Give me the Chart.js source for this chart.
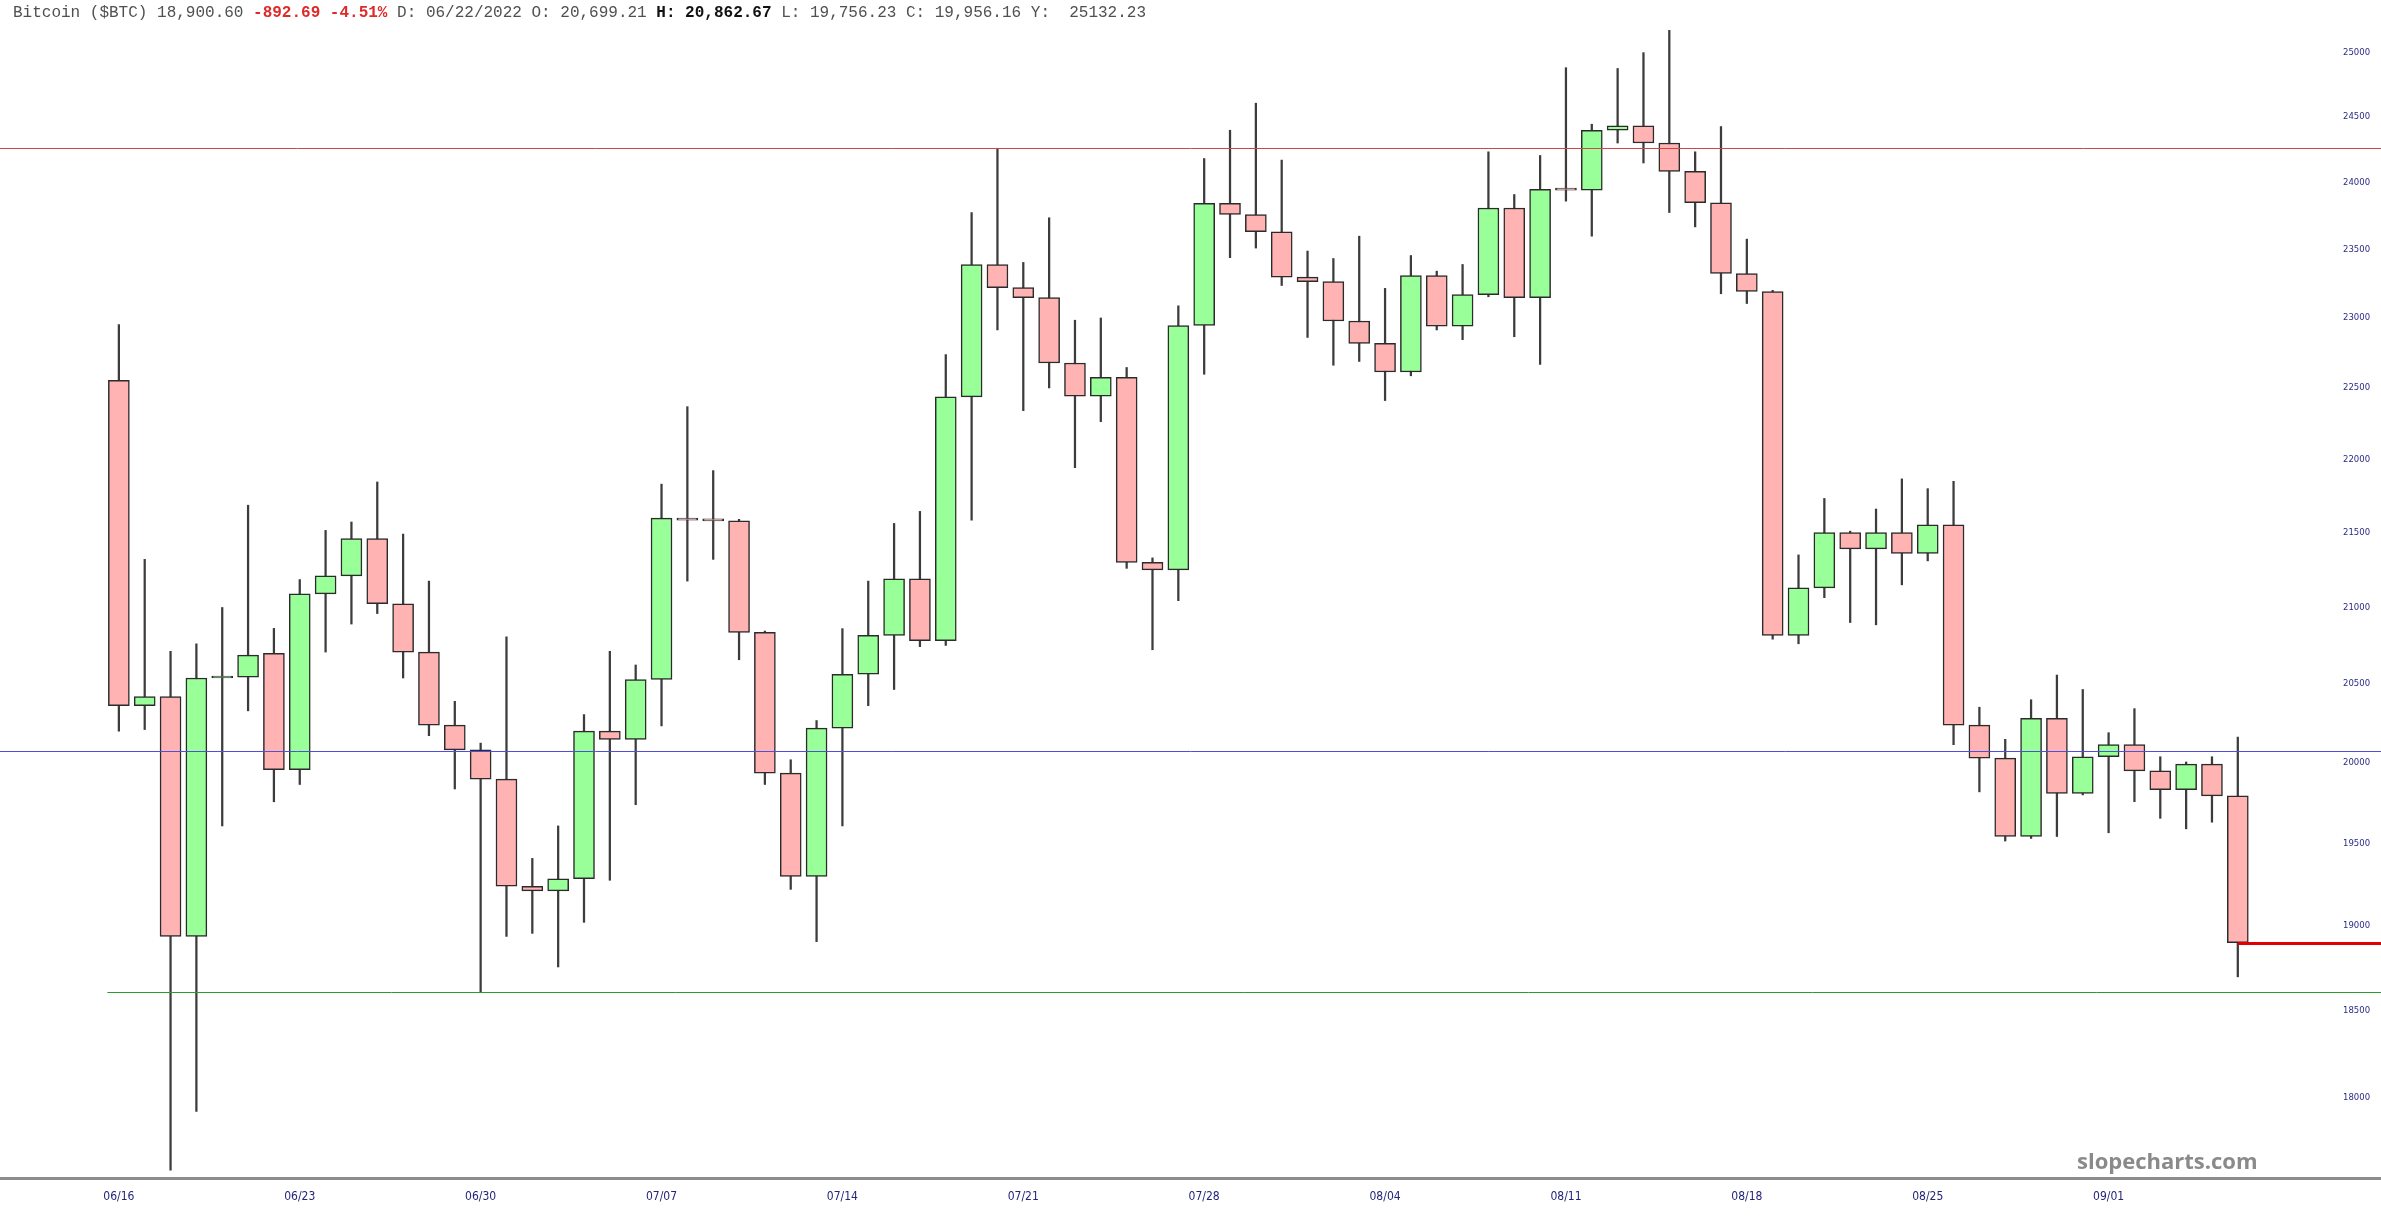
<!DOCTYPE html>
<html>
<head>
<meta charset="utf-8">
<title>Bitcoin ($BTC) daily</title>
<script src="https://cdn.jsdelivr.net/npm/chart.js@4.4.1/dist/chart.umd.min.js"></script>
<style>
  html, body { margin: 0; padding: 0; background: #fff; overflow: hidden; }
  #wrap { position: relative; width: 2381px; height: 1218px; }
  #quote { position: absolute; left: 13px; top: 5px; font: 16px/16px 'Liberation Mono', 'Courier New', monospace; color: #505050; white-space: pre; }
  #quote .dn { color: #e02a2a; font-weight: bold; }
  #quote .hi { color: #111; font-weight: bold; }
  #brand { position: absolute; left: 2077px; top: 1146px; font: bold 22px/28px 'Open Sans', sans-serif; color: #8a8a8a; }
</style>
</head>
<body>
<div id="wrap">
  <canvas id="chart" width="2381" height="1218"></canvas>
  <div id="quote"></div>
  <div id="brand">slopecharts.com</div>
</div>
<script>
// daily candles, 06/16 .. 09/06 (index = days since 06/16)
const tickDays = [0, 7, 14, 21, 28, 35, 42, 49, 56, 63, 70, 77];
const tickLabels = ['06/16', '06/23', '06/30', '07/07', '07/14', '07/21', '07/28', '08/04', '08/11', '08/18', '08/25', '09/01'];

const opens = [
  22554, 20362, 20420, 18938, 20540, 20545, 20699.21, 19956, 21090, 21210,
  21460, 21025, 20708, 20238, 20081, 19897, 19239, 19211, 19284, 20200,
  20148, 20530, 21598, 21585, 21580, 20837, 19935, 19298, 20219, 20564,
  20817, 21190, 20782, 22437, 23390, 23220, 23148, 22677, 22442, 22575,
  21300, 21250, 22946, 23843, 23760, 23632, 23297, 23264, 22978, 22817,
  22613, 23308, 22941, 23170, 23809, 23148, 23949, 23943, 24398, 24432,
  24300, 24085, 23848, 23324, 23192, 20817, 21130, 21500, 21390, 21500,
  21360, 21552, 20238, 20029, 19542, 20281, 19808, 20038, 20114, 19949,
  19832, 19991, 19793.29
];
const highs = [
  22952, 21320, 20713, 20762, 21000, 21686, 20862.67, 21185, 21515, 21572,
  21845, 21490, 21175, 20390, 20124, 20807, 19408, 19607, 20305, 20713,
  20624, 21830, 22368, 21923, 21590, 20845, 20019, 20267, 20861, 21175,
  21562, 21644, 22737, 23775, 24260, 23405, 23736, 22984, 23000, 22645,
  21330, 23088, 24182, 24398, 24606, 24170, 23489, 23434, 23599, 23215,
  23456, 23341, 23390, 24233, 23910, 24205, 24882, 24444, 24876, 25000,
  25176, 24233, 24426, 23577, 23200, 21350, 21732, 21510, 21660, 21866,
  21799, 21850, 20352, 20148, 20400, 20559, 20466, 20190, 20343, 20038,
  20005, 20038, 20162
];
const lows = [
  20200, 20210, 17597, 17924, 19607, 20329, 19756.23, 19864, 20708, 20891,
  20960, 20540, 20171, 19836, 18610, 18938, 18956, 18757, 19022, 19275,
  19738, 20233, 21175, 21320, 20658, 19864, 19220, 18907, 19607, 20362,
  20466, 20743, 20752, 21585, 22914, 22340, 22500, 21943, 22263, 21260,
  20723, 21045, 22597, 23440, 23511, 23236, 22860, 22661, 22688, 22411,
  22586, 22914, 22844, 23154, 22865, 22667, 23860, 23599, 24300, 24148,
  23775, 23668, 23176, 23105, 20792, 20762, 21065, 20901, 20886, 21150,
  21310, 20114, 19818, 19514, 19530, 19542, 19799, 19565, 19757, 19654,
  19589, 19630, 18699
];
const closes = [
  20362, 20420, 18938, 20540, 20545, 20688, 19956.16, 21090, 21210, 21460,
  21025, 20708, 20238, 20081, 19897, 19239, 19211, 19284, 20200, 20148,
  20530, 21598, 21585, 21580, 20837, 19935, 19298, 20219, 20564, 20817,
  21190, 20782, 22437, 23390, 23220, 23148, 22677, 22442, 22575, 21300,
  21250, 22946, 23843, 23760, 23632, 23297, 23264, 22978, 22817, 22613,
  23308, 22941, 23170, 23809, 23148, 23949, 23943, 24398, 24432, 24300,
  24085, 23848, 23324, 23192, 20817, 21130, 21500, 21390, 21500, 21360,
  21552, 20238, 20029, 19542, 20281, 19808, 20038, 20114, 19949, 19832,
  19991, 19793.29, 18900.60
];

// drawn levels
const resistance = 24260;
const pivot = 20074;
const support = 18609;

const yTicks = [18000, 18500, 19000, 19500, 20000, 20500, 21000, 21500, 22000, 22500, 23000, 23500, 24000, 24500, 25000];
const yMin = 17559, yMax = 25417;
const xMin = -4.6, xMax = 84.02;

const hoverIdx = 6, hoverDate = '06/22/2022';
const yearValue = 25132.23;

const up = '#99ff99', down = '#ffb3b3';
const bodyWidth = 21;

// quote line
const fmt = v => v.toLocaleString('en-US', { minimumFractionDigits: 2, maximumFractionDigits: 2 });
const last = closes[closes.length - 1];
const prev = closes[closes.length - 2];
const chg = last - prev;
const q = document.getElementById('quote');
function add(text, cls) {
  const s = document.createElement('span');
  if (cls) s.className = cls;
  s.textContent = text;
  q.appendChild(s);
}
add('Bitcoin ($BTC) ' + fmt(last) + ' ');
add(fmt(chg) + ' ' + (chg / prev * 100).toFixed(2) + '%', 'dn');
add(' D: ' + hoverDate + ' O: ' + fmt(opens[hoverIdx]) + ' ');
add('H: ' + fmt(highs[hoverIdx]), 'hi');
add(' L: ' + fmt(lows[hoverIdx]) + ' C: ' + fmt(closes[hoverIdx]) + ' Y:  ' + yearValue.toFixed(2));

const levelLines = {
  id: 'levelLines',
  afterDatasetsDraw(chart) {
    const { ctx, chartArea } = chart;
    const x = chart.scales.x, y = chart.scales.y;
    const w = chart.width;
    function hline(v, x0, color, lw) {
      const py = Math.round(y.getPixelForValue(v)) + (lw % 2 ? 0.5 : 0);
      ctx.beginPath();
      ctx.moveTo(x0, py);
      ctx.lineTo(w, py);
      ctx.strokeStyle = color;
      ctx.lineWidth = lw;
      ctx.stroke();
    }
    ctx.save();
    hline(resistance, 0, '#cc4848', 1);
    hline(pivot, 0, '#4f4fdc', 1);
    hline(support, x.getPixelForValue(0) - bodyWidth / 2 - 1, '#2e9a2e', 1);
    hline(last, x.getPixelForValue(closes.length - 1), '#e00000', 3);
    // base line
    ctx.beginPath();
    ctx.moveTo(0, chartArea.bottom + 1.5);
    ctx.lineTo(w, chartArea.bottom + 1.5);
    ctx.strokeStyle = '#8c8c8c';
    ctx.lineWidth = 3;
    ctx.stroke();
    ctx.restore();
  }
};

new Chart(document.getElementById('chart'), {
  type: 'bar',
  data: {
    datasets: [
      {
        label: 'body',
        data: opens.map((o, i) => ({ x: i, y: [o, closes[i]] })),
        order: 0,
        grouped: false,
        barThickness: bodyWidth,
        minBarLength: 2,
        backgroundColor: c => closes[c.dataIndex] >= opens[c.dataIndex] ? up : down,
        borderColor: '#2b2b2b',
        borderWidth: 1.5,
        borderSkipped: false
      },
      {
        label: 'wick',
        data: lows.map((l, i) => ({ x: i, y: [l, highs[i]] })),
        order: 1,
        grouped: false,
        barThickness: 1.6,
        backgroundColor: '#3c3c3c',
        borderWidth: 0
      }
    ]
  },
  options: {
    responsive: false,
    animation: false,
    devicePixelRatio: 1,
    layout: { padding: 0 },
    plugins: { legend: { display: false }, tooltip: { enabled: false } },
    scales: {
      x: {
        type: 'linear',
        min: xMin,
        max: xMax,
        offset: false,
        grid: { display: false, drawTicks: false },
        border: { display: false },
        afterBuildTicks: s => { s.ticks = tickDays.map(v => ({ value: v })); },
        afterFit: s => { s.height = 41; s.paddingLeft = 0; s.paddingRight = 0; },
        ticks: {
          autoSkip: false,
          maxRotation: 0,
          padding: 13,
          color: '#24247a',
          font: { family: "'Liberation Sans Narrow', 'DejaVu Sans Condensed', sans-serif", size: 12 },
          callback: (v, i) => tickLabels[i]
        }
      },
      y: {
        type: 'logarithmic',
        position: 'right',
        min: yMin,
        max: yMax,
        grid: { display: false, drawTicks: false },
        border: { display: false },
        afterBuildTicks: s => { s.ticks = yTicks.map(v => ({ value: v })); },
        afterFit: s => { s.width = 91; s.paddingTop = 0; s.paddingBottom = 0; },
        ticks: {
          padding: 53,
          color: '#2a2a85',
          font: { family: "'DejaVu Sans', Verdana, sans-serif", size: 8.5 },
          callback: v => String(v)
        }
      }
    }
  },
  plugins: [levelLines]
});
</script>
</body>
</html>
